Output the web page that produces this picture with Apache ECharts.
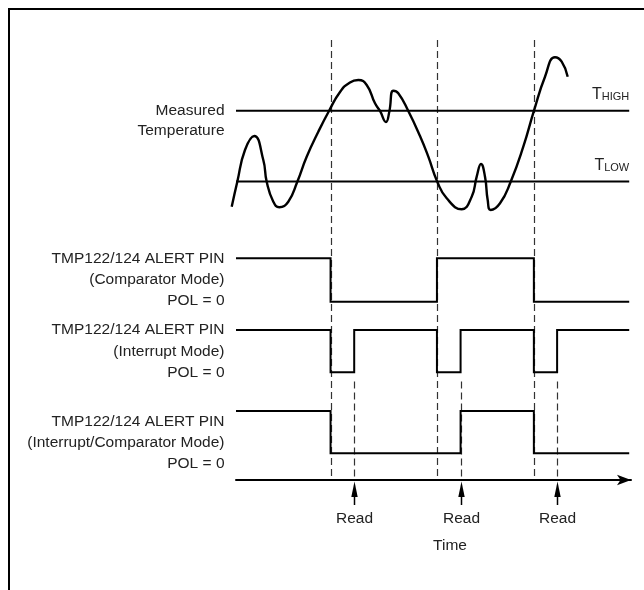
<!DOCTYPE html>
<html>
<head>
<meta charset="utf-8">
<script src="https://cdn.jsdelivr.net/npm/echarts/dist/echarts.min.js"></script>
<style>
  html, body { margin: 0; padding: 0; background: #fff; }
  #chart { width: 644px; height: 590px; }
</style>
</head>
<body>
<div id="chart"></div>
<script>
// ---------------- data ----------------
const T_HIGH = 40;
const T_LOW = 20;
const LINE_END = 99.8;           // end of drawn traces (time units)
// measured temperature curve (time, temperature)
const tempTime  = [-1.09, 0.33, 2.28, 4.64, 6.93, 7.79, 9.47, 10.99, 13.27, 15.56, 17.94, 20.89, 23.60, 26.40, 28.93, 31.04, 33.17, 35.28, 36.55, 38.07, 38.91, 39.92, 41.19, 43.73, 46.70, 48.81, 51.09, 53.48, 57.28, 59.82, 61.09, 62.18, 63.20, 63.88, 64.64, 67.01, 69.72, 72.92, 75.63, 78.43, 80.96, 82.66, 84.19];
const tempValue = [12.88, 19.94, 28.90, 32.85, 26.07, 19.94, 14.29, 12.71, 14.29, 19.94, 27.01, 34.07, 39.92, 45.30, 48.00, 48.67, 47.26, 42.09, 39.92, 36.81, 39.72, 45.65, 44.92, 39.92, 32.85, 27.01, 19.94, 15.25, 12.15, 15.71, 21.36, 24.94, 21.36, 14.77, 11.95, 13.84, 19.94, 29.83, 40.00, 49.60, 55.08, 53.84, 49.60];
// events
const crossingTimes = [24, 51, 75.6];
const readTimes = [30, 57, 81.5];
// ALERT pin levels (1 = high, 0 = low), step changes at given times
const comparatorTimes  = [0, 24, 51, 75.6, LINE_END];
const comparatorLevels = [1, 0, 1, 0, 0];
const interruptTimes   = [0, 24, 30, 51, 57, 75.6, 81.5, LINE_END];
const interruptLevels  = [1, 0, 1, 0, 1, 0, 1, 1];
const intCompTimes     = [0, 24, 57, 75.6, LINE_END];
const intCompLevels    = [1, 0, 1, 0, 0];
// texts
const tempLabel       = ['Measured', 'Temperature'];
const comparatorLabel = ['TMP122/124 ALERT PIN', '(Comparator Mode)', 'POL = 0'];
const interruptLabel  = ['TMP122/124 ALERT PIN', '(Interrupt Mode)', 'POL = 0'];
const intCompLabel    = ['TMP122/124 ALERT PIN', '(Interrupt/Comparator Mode)', 'POL = 0'];
const readLabel = 'Read';
const timeLabel = 'Time';

// ---------------- chart ----------------
const FONT = '"Liberation Sans", Arial, Helvetica, sans-serif';
const TXT = '#222';
const zip = (a, b) => a.map((v, i) => [v, b[i]]);

const chart = echarts.init(document.getElementById('chart'), null, { renderer: 'canvas' });

const hiddenX = (min, max, gi) => ({ type: 'value', gridIndex: gi, min, max, show: false });
const hiddenY = (min, max, gi) => ({ type: 'value', gridIndex: gi, min, max, show: false });

const traceStyle = { color: '#000', width: 2, cap: 'butt', join: 'miter' };

const option = {
  animation: false,
  backgroundColor: '#fff',
  grid: [
    { left: 228.12, right: 14, top: 54.06, height: 162.84 },   // temperature
    { left: 236, right: 14, top: 258.3, height: 43.4 },        // comparator
    { left: 236, right: 14, top: 330, height: 42.3 },          // interrupt
    { left: 236, right: 14, top: 411, height: 42.3 },          // interrupt/comparator
    { left: 236, right: 13, top: 479, height: 1 }              // time axis
  ],
  xAxis: [
    hiddenX(-2, 100, 0),
    hiddenX(0, 100, 1),
    hiddenX(0, 100, 2),
    hiddenX(0, 100, 3),
    {
      type: 'value', gridIndex: 4, min: 0, max: 100, position: 'bottom',
      axisLine: { show: true, symbol: ['none', 'arrow'], symbolSize: [8, 14],
                  lineStyle: { color: '#000', width: 2 } },
      axisTick: { show: false }, axisLabel: { show: false }, splitLine: { show: false }
    }
  ],
  yAxis: [
    hiddenY(10, 56, 0),
    hiddenY(0, 1, 1),
    hiddenY(0, 1, 2),
    hiddenY(0, 1, 3),
    hiddenY(0, 1, 4)
  ],
  series: [
    { type: 'line', xAxisIndex: 0, yAxisIndex: 0, data: [[0, T_HIGH], [LINE_END, T_HIGH]],
      showSymbol: false, lineStyle: traceStyle, silent: true },
    { type: 'line', xAxisIndex: 0, yAxisIndex: 0, data: [[0, T_LOW], [LINE_END, T_LOW]],
      showSymbol: false, lineStyle: traceStyle, silent: true },
    { type: 'line', xAxisIndex: 0, yAxisIndex: 0, data: zip(tempTime, tempValue),
      smooth: 0.5, smoothMonotone: null, showSymbol: false, clip: false,
      lineStyle: { color: '#000', width: 2.4 }, silent: true },
    { type: 'line', xAxisIndex: 1, yAxisIndex: 1, step: 'end', data: zip(comparatorTimes, comparatorLevels),
      showSymbol: false, clip: false, lineStyle: traceStyle, silent: true },
    { type: 'line', xAxisIndex: 2, yAxisIndex: 2, step: 'end', data: zip(interruptTimes, interruptLevels),
      showSymbol: false, clip: false, lineStyle: traceStyle, silent: true },
    { type: 'line', xAxisIndex: 3, yAxisIndex: 3, step: 'end', data: zip(intCompTimes, intCompLevels),
      showSymbol: false, clip: false, lineStyle: traceStyle, silent: true }
  ]
};
chart.setOption(option);

// ---------- annotations positioned through the chart's own scales ----------
const xPx = t => chart.convertToPixel({ xAxisIndex: 1 }, t);
const yTemp = v => chart.convertToPixel({ yAxisIndex: 0 }, v);

const measure = (() => {
  const c = document.createElement('canvas').getContext('2d');
  return (txt, font) => { c.font = font; return c.measureText(txt).width; };
})();

const dash = { stroke: '#333', lineWidth: 1.2, lineDash: [7, 4] };
const g = [];

// frame
g.push({ type: 'polyline', z: 1, shape: { points: [[9, 600], [9, 9], [660, 9]] },
         style: { stroke: '#000', lineWidth: 2, fill: null } });

// dashed event lines
crossingTimes.forEach(t => {
  const x = Math.round(xPx(t)) + 0.5;
  g.push({ type: 'line', z: 0, shape: { x1: x, y1: 40, x2: x, y2: 478 }, style: Object.assign({}, dash) });
});
readTimes.forEach(t => {
  const x = Math.round(xPx(t)) + 0.5;
  g.push({ type: 'line', z: 0, shape: { x1: x, y1: 381.5, x2: x, y2: 480 }, style: Object.assign({}, dash) });
  // read arrow
  g.push({ type: 'line', z: 5, shape: { x1: x, y1: 495, x2: x, y2: 505 }, style: { stroke: '#000', lineWidth: 1.5 } });
  g.push({ type: 'polygon', z: 5, shape: { points: [[x, 481.5], [x - 3.2, 497], [x + 3.2, 497]] }, style: { fill: '#000' } });
  g.push({ type: 'text', z: 5, x: x, y: 519,
           style: { text: readLabel, font: '15.5px ' + FONT, fill: TXT,
                    textAlign: 'center', textVerticalAlign: 'middle', align: 'center', verticalAlign: 'middle' } });
});

// "Time"
g.push({ type: 'text', z: 5, x: 450, y: 546,
         style: { text: timeLabel, font: '15.5px ' + FONT, fill: TXT,
                  textAlign: 'center', textVerticalAlign: 'middle', align: 'center', verticalAlign: 'middle' } });

// left labels
const addLabels = (lines, ys) => lines.forEach((s, i) => g.push({
  type: 'text', z: 5, x: 224.5, y: ys[i],
  style: { text: s, font: '15.5px ' + FONT, fill: TXT,
           textAlign: 'right', textVerticalAlign: 'middle', align: 'right', verticalAlign: 'middle' }
}));
const yHigh = yTemp(T_HIGH);
addLabels(tempLabel, [yHigh, yHigh + 20]);
addLabels(comparatorLabel, [259, 280, 301]);
addLabels(interruptLabel, [330, 351.5, 373]);
addLabels(intCompLabel, [421.7, 443, 464]);

// T_HIGH / T_LOW labels
const addThreshLabel = (sub, lineY) => {
  const right = xPx(LINE_END);
  const subFont = '11px ' + FONT;
  const w = measure(sub, subFont);
  const yT = lineY - 16;
  g.push({ type: 'text', z: 5, x: right, y: yT + 2,
           style: { text: sub, font: subFont, fill: TXT,
                    textAlign: 'right', textVerticalAlign: 'middle', align: 'right', verticalAlign: 'middle' } });
  g.push({ type: 'text', z: 5, x: right - w, y: yT,
           style: { text: 'T', font: '16px ' + FONT, fill: TXT,
                    textAlign: 'right', textVerticalAlign: 'middle', align: 'right', verticalAlign: 'middle' } });
};
addThreshLabel('HIGH', yTemp(T_HIGH));
addThreshLabel('LOW', yTemp(T_LOW));

chart.setOption({ graphic: { elements: g } });
</script>
</body>
</html>
